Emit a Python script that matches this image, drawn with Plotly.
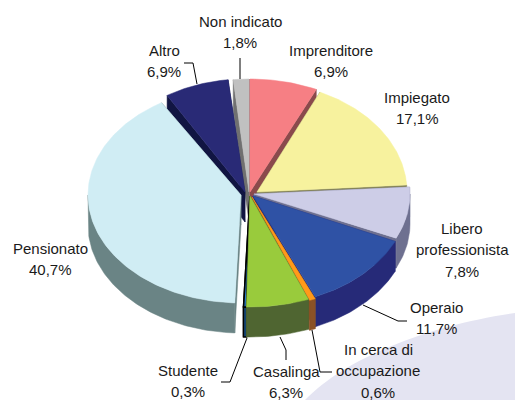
import numpy as np
import plotly.graph_objects as go

# Data
categories = ["Imprenditore", "Impiegato", "Libero\nprofessionista", "Operaio",
              "In cerca di\noccupazione", "Casalinga", "Studente", "Pensionato",
              "Altro", "Non indicato"]
values = [6.9, 17.1, 7.8, 11.7, 0.6, 6.3, 0.3, 40.7, 6.9, 1.8]

# Style
top_colors = ["#f67f84", "#f7f29e", "#cdcde7", "#2f52a5", "#ff9a1a", "#99cb3c", "#2a7fc8", "#d0edf4", "#292a76", "#c0c0c0"]
side_colors = ["#8a4a4c", "#85845a", "#6e7090", "#262a78", "#8a5226", "#4f6531", "#1c5e9c", "#6a8485", "#111542", "#707070"]
# centre x, centre y, radius x, radius y of each exploded slice
geom = [(250, 192, 158, 113), (257, 192, 150, 110), (254, 194, 156, 107), (253, 196, 156, 110),
        (252, 197, 158, 111), (250, 196, 160, 111), (250, 196, 158, 111), (241, 195, 153, 108),
        (245, 192, 150, 113), (249, 192, 140, 113)]
DEPTH = 30
order = [9, 8, 0, 1, 2, 3, 4, 7, 6, 5]

# label anchor: centre x, first-line y
label_pos = [(331, 50), (417, 97), (462, 228), (436, 307), (378, 349), (286, 371), (188, 370), (50, 248), (164, 50), (240, 21)]
LINE_STEP = 21.5
leaders = [[(184, 63), (193, 63), (197, 84)], [(240, 58), (240, 79)],
           [(363, 305), (398, 321), (407, 321)], [(280, 337), (286, 350), (286, 360)],
           [(312, 330), (320, 372), (332, 372)], [(247, 338), (230, 382), (221, 382)]]

fig = go.Figure()

def poly(xs, ys, color, line=None):
    fig.add_trace(go.Scatter(x=xs, y=ys, mode="lines", fill="toself", fillcolor=color,
                             line=dict(color=line or color, width=0.5 if line is None else 1.6),
                             hoverinfo="skip", showlegend=False))

bounds = np.cumsum([0] + values) / sum(values) * 2 * np.pi
for i in order:
    a0, a1 = bounds[i], bounds[i + 1]
    cx, cy, rx, ry = geom[i]
    t = np.linspace(a0, a1, max(3, int((a1 - a0) * 60)))
    ax = cx + rx * np.sin(t)
    ay = cy - ry * np.cos(t)
    edge = "#000000" if categories[i] == "Studente" else None
    # radial walls
    for a in (a0, a1):
        ex, ey = cx + rx * np.sin(a), cy - ry * np.cos(a)
        poly([cx, ex, ex, cx, cx], [cy, ey, ey + DEPTH, cy + DEPTH, cy], side_colors[i], edge)
    # outer wall (front half only)
    lo, hi = max(a0, np.pi / 2), min(a1, 3 * np.pi / 2)
    if hi > lo:
        w = np.linspace(lo, hi, max(3, int((hi - lo) * 60)))
        wx = cx + rx * np.sin(w)
        wy = cy - ry * np.cos(w)
        poly(list(wx) + list(wx[::-1]) + [wx[0]], list(wy) + list(wy[::-1] + DEPTH) + [wy[0]], side_colors[i], edge)
    # top face
    poly([cx] + list(ax) + [cx], [cy] + list(ay) + [cy], top_colors[i], edge)

shapes = [dict(type="path", layer="below", xref="x", yref="y",
               path="M 305 400 C 345 358 430 325 515 313 L 515 400 Z",
               fillcolor="#e4e4f2", line=dict(width=0))]
for pts in leaders:
    path = "M " + " L ".join(f"{x} {y}" for x, y in pts)
    shapes.append(dict(type="path", xref="x", yref="y", path=path, line=dict(color="#000000", width=1)))

annotations = []
for name, v, (x, y) in zip(categories, values, label_pos):
    lines = name.split("\n") + [f"{v:.1f}".replace(".", ",") + "%"]
    for k, s in enumerate(lines):
        annotations.append(dict(x=x, y=y + k * LINE_STEP, xref="x", yref="y", text=s, showarrow=False,
                                xanchor="center", yanchor="middle",
                                font=dict(family="Liberation Sans", size=15, color="#1a1a1a")))

fig.update_layout(width=515, height=400, margin=dict(l=0, r=0, t=0, b=0), paper_bgcolor="#ffffff",
                  plot_bgcolor="#ffffff", shapes=shapes, annotations=annotations,
                  xaxis=dict(range=[0, 515], visible=False, fixedrange=True),
                  yaxis=dict(range=[400, 0], visible=False, fixedrange=True))
fig.write_html("out.html", config={"displayModeBar": False},
               post_script="document.body.style.margin='0';")
